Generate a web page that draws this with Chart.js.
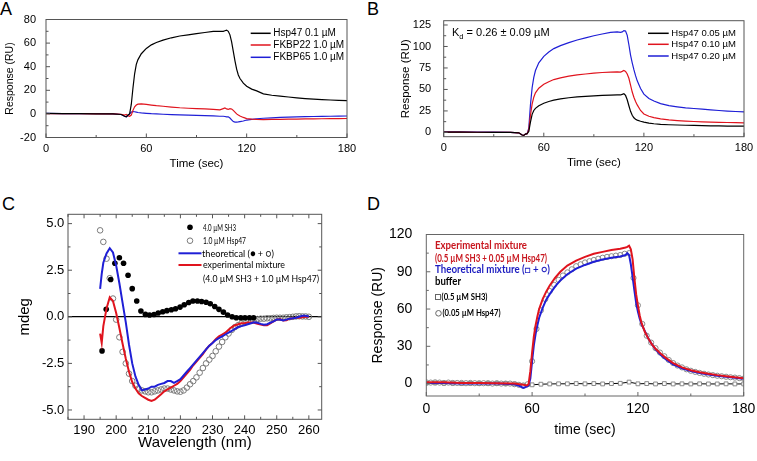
<!DOCTYPE html>
<html>
<head>
<meta charset="utf-8">
<script src="https://cdn.jsdelivr.net/npm/chart.js@4.4.0/dist/chart.umd.min.js"></script>
<style>
body { margin: 0; background: #fff; width: 757px; height: 461px; position: relative; overflow: hidden; font-family: "Liberation Sans", Arial, sans-serif; }
.box { position: absolute; }
.tag { position: absolute; font-size: 18px; line-height: 18px; color: #000; }
</style>
</head>
<body>
<div class="tag" style="left:0px;top:0px">A</div>
<div class="tag" style="left:367px;top:0px">B</div>
<div class="tag" style="left:2px;top:195px">C</div>
<div class="tag" style="left:367px;top:195px">D</div>

<div class="box" style="left:0px;top:0px;width:378px;height:180px"><canvas id="chartA"></canvas></div>
<div class="box" style="left:378px;top:0px;width:379px;height:180px"><canvas id="chartB"></canvas></div>
<div class="box" style="left:0px;top:190px;width:378px;height:271px"><canvas id="chartC"></canvas></div>
<div class="box" style="left:360px;top:190px;width:397px;height:271px"><canvas id="chartD"></canvas></div>

<script>
// ---- A / B : SPR sensorgrams (time in sec, response in RU)
var timeAB = [0, 10, 20, 30, 40, 45, 47, 48, 49, 50, 51, 52, 53, 54, 55, 57, 60, 63, 66, 70, 75, 80, 85, 90, 95,
    100, 104, 106, 107, 108, 109, 110, 111, 112, 113, 114, 115, 116, 118, 120, 123, 126, 130, 135, 140,
    145, 150, 155, 160, 165, 170, 175, 180];

var hsp47A = [0.5, 0.3, 0.2, 0, 0, -0.5, -2, -2.5, -1, 0, 8, 22, 34, 42, 46, 51, 55.5, 58.5, 60.5, 62.5,
    64.5, 66, 67, 68, 69, 70, 70, 70, 70.5, 71, 70, 67, 61, 53, 45, 38, 33, 30, 26, 23.5,
    21, 19.5, 17, 15.8, 15, 14.3, 13.6, 13, 12.5, 12.1, 11.8, 11.5, 11.2];
var fkbp22A = [0.3, 0.2, 0.2, 0, 0, -0.3, -1, -0.5, -1.5, -2, -1, 3, 6, 7.5, 8.3, 8.5, 8, 7.5, 7, 6.5,
    5.8, 5.2, 4.8, 4.5, 4.2, 3.9, 3.5, 4.5, 5, 4.2, 3.8, 4.5, 4.2, 3, 1.5, 0, -1, -1.8, -3, -4,
    -4.4, -4.7, -4.8, -4.7, -4.6, -4.5, -4.4, -4.3, -4.2, -4.1, -4, -4, -3.9];
var fkbp65A = [0.5, 0.3, 0.3, 0.2, 0, -0.5, -2, -2.5, -1.5, 0, 1.5, 2, 1.8, 1.5, 1.2, 0.8, 0.5, 0.2, 0, -0.3,
    -0.6, -0.8, -1, -1.2, -1.5, -1.7, -2, -2, -2.2, -2.5, -2.5, -3.5, -5, -6.5, -7, -7, -6.8, -6.5, -6, -5.2,
    -4.6, -4.1, -3.7, -3.3, -3, -2.7, -2.5, -2.3, -2.2, -2.1, -2, -1.9, -1.8];

var hsp005B = [0.3, 0.3, 0.2, 0, 0, -0.5, -3, -3.5, -2, -1.5, 1, 12, 21, 25.5, 28, 31, 34, 36, 37.5, 39,
    40.3, 41.3, 42, 42.6, 43.1, 43.5, 43.7, 43.6, 44.3, 45, 43, 38, 31, 24.5, 20, 17, 15.3, 14.3, 13, 12,
    10.9, 10.1, 9.4, 8.9, 8.6, 8.3, 8.1, 7.9, 7.7, 7.6, 7.4, 7.3, 7.2];
var hsp010B = [0.3, 0.3, 0.2, 0, 0, -0.5, -3, -3.5, -2, -1.5, 3, 20, 33, 41, 46, 51.5, 56, 59, 61.5, 63.5,
    65.5, 67, 68, 69, 69.7, 70.2, 70.4, 70.2, 71, 72, 71, 68, 63, 55, 47, 41, 36, 32, 25.5, 21.5,
    18.8, 17.2, 15.8, 14.6, 13.8, 13.2, 12.7, 12.3, 12, 11.7, 11.5, 11.3, 11.1];
var hsp020B = [0.5, 0.5, 0.3, 0.3, 0, -0.5, -3, -3.5, -2, -1.5, 5, 32, 52, 64, 72, 81, 88.5, 93.5, 97.5, 101,
    104.5, 107.5, 110, 112.5, 114.5, 116.5, 117, 116.5, 117, 118.5, 118, 113, 102, 90, 81, 73, 66, 60, 51, 44.5,
    39.5, 36.5, 33.5, 31.2, 29.8, 28.6, 27.8, 27, 26.2, 25.5, 24.8, 24.3, 23.8];

// ---- C : CD spectra (wavelength in nm, mdeg)
var wlSH3 = [195.6, 196.9, 198.3, 199.6, 201.0, 202.3, 203.7, 205.0, 206.4, 207.7, 209.1, 210.4, 211.8, 213.1,
    214.5, 215.8, 217.2, 218.5, 219.9, 221.2, 222.6, 223.9, 225.3, 226.6, 228.0, 229.3, 230.7, 232.0, 233.4,
    234.7, 236.1, 237.4, 238.8, 240.1, 241.5, 242.8];
var sh3C = [-1.83, 0.40, 2.0, 2.87, 3.17, 2.87, 2.23, 1.51, 0.85, 0.31, 0.13, 0.10, 0.12, 0.2, 0.27, 0.33,
    0.38, 0.43, 0.52, 0.65, 0.77, 0.85, 0.85, 0.82, 0.78, 0.7, 0.55, 0.4, 0.25, 0.1, 0.0, -0.05, -0.05,
    -0.05, -0.05, -0.05];

var wlHsp = [195, 196, 197, 198, 199, 200, 201, 202, 203, 204, 205, 206, 207, 208, 209, 210, 211, 212, 213, 214,
    215, 216, 217, 218, 219, 220, 221, 222, 223, 224, 225, 226, 227, 228, 229, 230, 231, 232, 233, 234,
    235, 236, 237, 238, 239, 240, 241, 242, 243, 244, 245, 246, 247, 248, 249, 250, 251, 252, 253, 254,
    255, 256, 257, 258, 259, 260];
var hsp47C = [4.64, 4.02, 3.12, 2.07, 0.98, -0.15, -1.1, -1.88, -2.5, -3.05, -3.45, -3.7, -3.85, -3.95, -4.0,
    -4.05, -4.05, -4.0, -3.95, -3.9, -3.85, -3.85, -3.9, -3.95, -4.0, -4.02, -3.95, -3.8, -3.62, -3.45,
    -3.25, -3.0, -2.75, -2.5, -2.3, -2.1, -1.85, -1.6, -1.35, -1.1, -0.9, -0.7, -0.55, -0.45, -0.35,
    -0.3, -0.25, -0.2, -0.15, -0.12, -0.1, -0.1, -0.08, -0.08, -0.06, -0.05, -0.05, -0.05, -0.03, -0.02,
    0, 0.02, 0.03, 0.02, 0.02, 0];

var wlLine = [195, 195.5, 196, 197, 198, 199, 200, 201, 202, 203, 204, 205, 206, 207, 208, 209, 210, 211, 212,
    213, 214, 215, 216, 217, 218, 219, 220, 221, 222, 223, 224, 225, 226, 227, 228, 229, 230, 231, 232,
    233, 234, 235, 236, 237, 238, 239, 240, 241, 242, 243, 244, 245, 246, 247, 248, 249, 250, 251, 252,
    253, 254, 255, 256, 257, 258, 259, 260];
var theoC = [1.5, 2.3, 2.9, 3.4, 3.68, 3.45, 2.75, 1.8, 0.75, -0.3, -1.5, -2.5, -3.2, -3.65, -3.95, -3.9, -3.85,
    -3.75, -3.75, -3.65, -3.6, -3.55, -3.45, -3.45, -3.55, -3.45, -3.35, -3.15, -2.95, -2.75, -2.55, -2.35,
    -2.15, -1.95, -1.75, -1.55, -1.4, -1.25, -1.15, -1.05, -0.95, -0.85, -0.75, -0.65, -0.55, -0.5, -0.45,
    -0.4, -0.35, -0.3, -0.32, -0.38, -0.42, -0.4, -0.32, -0.25, -0.15, -0.15, -0.2, -0.15, -0.1, -0.08,
    -0.05, 0, 0.05, 0.05, 0.02];
var exptC = [-0.9, -1.4, -0.5, 0.45, 1.05, 0.85, 0.2, -0.6, -1.45, -2.25, -2.95, -3.5, -3.85, -4.1, -4.25, -4.35,
    -4.45, -4.52, -4.45, -4.3, -4.15, -4.0, -3.9, -3.8, -3.7, -3.6, -3.45, -3.25, -3.05, -2.85, -2.6, -2.4,
    -2.2, -2.0, -1.75, -1.55, -1.4, -1.2, -1.05, -0.95, -0.85, -0.7, -0.55, -0.45, -0.4, -0.35, -0.35,
    -0.3, -0.3, -0.32, -0.38, -0.42, -0.45, -0.45, -0.35, -0.25, -0.15, -0.12, -0.2, -0.18, -0.1, -0.08,
    -0.05, -0.05, -0.02, 0, 0];

// ---- D : mixture sensorgrams
var timeD = [0, 10, 20, 30, 40, 50, 53, 55, 57, 58, 59, 60, 61, 62, 63, 64, 66, 68, 70, 73, 76, 80, 85, 90, 95,
    100, 105, 110, 113, 114, 115, 116, 117, 118, 119, 120, 121, 122, 124, 126, 128, 130, 133, 136, 140,
    145, 150, 155, 160, 165, 170, 175, 180];
var exptD = [1, 1, 0.5, 0.5, 0.3, 0, -0.5, -1, -1.5, -0.5, 10, 25, 38, 47, 54, 60, 68, 74, 79, 85,
    90, 95, 99, 102, 104.5, 106, 107.5, 108.5, 109.5, 110, 111, 108, 100, 85, 72, 63, 55, 49, 41.5, 36,
    31.5, 28, 24, 20.5, 16.5, 13, 10.8, 9.2, 7.9, 6.8, 5.9, 5, 4.3];
var theoD = [0.5, 0.5, 0, 0, 0, -0.5, -2, -3.5, -2.5, -1.5, 4, 18, 31, 40, 47, 53, 61, 67.5, 72, 78,
    83, 88, 92.5, 95.5, 98, 99.8, 101.2, 102.3, 103.5, 105, 103.5, 96, 86, 75, 65, 58, 52.5, 48, 42, 36,
    31.5, 27.5, 23, 19.5, 15.5, 12.2, 10, 8.5, 7.3, 6.3, 5.4, 4.6, 3.8];

var timeCirc = [0, 2.5, 5, 7.5, 10, 12.5, 15, 17.5, 20, 22.5, 25, 27.5, 30, 32.5, 35, 37.5, 40, 42.5, 45, 47.5,
    50, 52.5, 55, 57.5, 60, 62.5, 65, 67.5, 70, 72.5, 75, 77.5, 80, 82.5, 85, 87.5, 90, 92.5, 95, 97.5,
    100, 102.5, 105, 107.5, 110, 112.5, 115, 117.5, 120, 122.5, 125, 127.5, 130, 132.5, 135, 137.5, 140,
    142.5, 145, 147.5, 150, 152.5, 155, 157.5, 160, 162.5, 165, 167.5, 170, 172.5, 175, 177.5, 180];
var hsp47D = [1, 0.8, 1, 0.8, 0.5, 0.8, 0.5, 0.5, 0.5, 0.3, 0.5, 0.3, 0.3, 0.3, 0.3, 0, 0.3, 0, 0, 0,
    -0.5, -1, -1.5, -0.5, 18, 44, 59, 68, 74.5, 79.5, 83.5, 87, 89.5, 92, 94.5, 96, 97.5, 98.5, 99.5, 100.5,
    101.3, 102, 102.5, 103, 103.5, 104.5, 105, 85, 63, 48, 38.5, 33, 28.5, 25, 22, 19, 16.5, 14.5, 13, 11.5,
    10.3, 9.4, 8.6, 7.9, 7.3, 6.8, 6.3, 5.9, 5.5, 5.1, 4.8, 4.4, 4];

var timeSq = [0, 5, 10, 15, 20, 25, 30, 35, 40, 45, 50, 55, 60, 65, 70, 75, 80, 85, 90, 95, 100, 105, 110, 115,
    120, 125, 130, 135, 140, 145, 150, 155, 160, 165, 170, 175, 180];
var sh3D = [0.3, 0.5, 0.3, 0.3, 0, 0.2, 0, 0, 0, 0, -0.3, -2, -1, -0.5, -0.3, -0.2, -0.2, 0, -0.2, 0,
    -0.3, 0, 0.2, 1.2, -0.2, 0, -0.3, 0, -0.3, -0.2, -0.3, -0.2, -0.3, -0.3, -0.2, -0.3, -0.3];

var RED = '#e0141e', BLUE = '#1f1fd6';
var SANS = '"Liberation Sans", Arial, sans-serif';
var SOFT = 'Lato, "Open Sans", sans-serif';

Chart.defaults.font.family = SANS;
Chart.defaults.color = '#000';
Chart.defaults.animation = false;

function pts(xs, ys) {
    return xs.map(function (x, i) { return {x: x, y: ys[i]}; });
}

// Origin-style frame with inward major/minor ticks
var frameTicks = {
    id: 'frameTicks',
    afterDatasetsDraw: function (chart, args, o) {
        var ctx = chart.ctx, a = chart.chartArea;
        function marks(scale) {
            var t = scale.ticks.map(function (k) { return k.value; });
            var out = [], step = t[1] - t[0];
            if (t[0] - step / 2 >= scale.min) out.push([t[0] - step / 2, o.minor]);
            t.forEach(function (v, i) {
                out.push([v, o.major]);
                if (i < t.length - 1 || v + step / 2 <= scale.max) out.push([v + step / 2, o.minor]);
            });
            return out;
        }
        ctx.save();
        ctx.strokeStyle = o.color;
        ctx.lineWidth = 1;
        ctx.strokeRect(a.left, a.top, a.right - a.left, a.bottom - a.top);
        ctx.beginPath();
        marks(chart.scales.x).forEach(function (m) {
            var px = chart.scales.x.getPixelForValue(m[0]);
            if (px > a.right + 0.5) return;
            ctx.moveTo(px, a.bottom); ctx.lineTo(px, a.bottom - m[1]);
            if (o.all) { ctx.moveTo(px, a.top); ctx.lineTo(px, a.top + m[1]); }
        });
        marks(chart.scales.y).forEach(function (m) {
            var py = chart.scales.y.getPixelForValue(m[0]);
            if (py < a.top - 0.5) return;
            ctx.moveTo(a.left, py); ctx.lineTo(a.left + m[1], py);
            if (o.all) { ctx.moveTo(a.right, py); ctx.lineTo(a.right - m[1], py); }
        });
        ctx.stroke();
        ctx.restore();
    }
};

function lineSet(label, xs, ys, color, width) {
    return {label: label, data: pts(xs, ys), showLine: true, borderColor: color, borderWidth: width,
        pointRadius: 0, fill: false, tension: 0};
}

function axisX(min, max, step, tickSize, tickPad, title, titleSize, titlePad, height) {
    return {
        type: 'linear', min: min, max: max,
        ticks: {stepSize: step, includeBounds: false, maxRotation: 0, font: {size: tickSize}, padding: tickPad},
        grid: {display: false}, border: {display: false},
        title: {display: true, text: title, font: {size: titleSize, weight: 'normal'}, padding: {top: 0, bottom: titlePad}},
        afterFit: function (s) { s.height = height; }
    };
}

function axisY(min, max, step, tickSize, tickPad, title, titleSize, titlePad, width) {
    return {
        type: 'linear', min: min, max: max,
        ticks: {stepSize: step, includeBounds: false, font: {size: tickSize}, padding: tickPad},
        grid: {display: false}, border: {display: false},
        title: {display: true, text: title, font: {size: titleSize, weight: 'normal'}, padding: {top: titlePad, bottom: 0}},
        afterFit: function (s) { s.width = width; }
    };
}

function lineLegend(rows, x0, x1, tx, font) {
    return {
        id: 'lineLegend',
        afterDraw: function (chart) {
            var ctx = chart.ctx;
            ctx.save();
            ctx.font = font;
            ctx.textBaseline = 'middle';
            chart.data.datasets.forEach(function (ds, i) {
                var y = rows[i];
                ctx.strokeStyle = ds.borderColor;
                ctx.lineWidth = 1.5;
                ctx.beginPath(); ctx.moveTo(x0, y); ctx.lineTo(x1, y); ctx.stroke();
                ctx.fillStyle = '#000';
                ctx.fillText(ds.label, tx, y);
            });
            ctx.restore();
        }
    };
}

// ---------- A
new Chart(document.getElementById('chartA'), {
    type: 'scatter',
    data: {datasets: [
        lineSet('Hsp47 0.1 \u00b5M', timeAB, hsp47A, '#000', 1.2),
        lineSet('FKBP22 1.0 \u00b5M', timeAB, fkbp22A, RED, 1.2),
        lineSet('FKBP65 1.0 \u00b5M', timeAB, fkbp65A, BLUE, 1.2)
    ]},
    options: {
        responsive: true, maintainAspectRatio: false,
        layout: {padding: {left: 0, right: 31, top: 19.5, bottom: 0}},
        scales: {
            x: axisX(0, 180, 60, 11, -2.9, 'Time (sec)', 11.5, 8.8, 42.5),
            y: axisY(-20, 80, 20, 11, 2, 'Response (RU)', 10.5, 3.7, 46)
        },
        plugins: {legend: {display: false}, tooltip: {enabled: false},
            frameTicks: {color: '#555', major: 4, minor: 2.5, all: false}}
    },
    plugins: [frameTicks, lineLegend([33.3, 45, 57.3], 250.7, 270.7, 273.3, '10px ' + SANS)]
});

// ---------- B
new Chart(document.getElementById('chartB'), {
    type: 'scatter',
    data: {datasets: [
        lineSet('Hsp47 0.05 \u00b5M', timeAB, hsp005B, '#000', 1.2),
        lineSet('Hsp47 0.10 \u00b5M', timeAB, hsp010B, RED, 1.2),
        lineSet('Hsp47 0.20 \u00b5M', timeAB, hsp020B, BLUE, 1.2)
    ]},
    options: {
        responsive: true, maintainAspectRatio: false,
        layout: {padding: {left: 0, right: 13, top: 20.7, bottom: 0}},
        scales: {
            x: axisX(0, 180, 60, 11, -2.9, 'Time (sec)', 11.5, 9.8, 43.3),
            y: axisY(-5, 130, 25, 11, 4.5, 'Response (RU)', 11.5, 20.6, 65.7)
        },
        plugins: {legend: {display: false}, tooltip: {enabled: false},
            frameTicks: {color: '#555', major: 4, minor: 2.5, all: false}}
    },
    plugins: [frameTicks, lineLegend([33.3, 44.3, 56], 270, 290.7, 293.3, '9.5px ' + SANS), {
        id: 'kd',
        afterDraw: function (chart) {
            var ctx = chart.ctx;
            ctx.save();
            ctx.fillStyle = '#000';
            ctx.textBaseline = 'middle';
            ctx.font = '11px ' + SANS;
            ctx.fillText('K', 74, 33.3);
            var w = ctx.measureText('K').width;
            ctx.font = '7.5px ' + SANS;
            ctx.fillText('d', 74 + w, 37);
            var w2 = ctx.measureText('d').width;
            ctx.font = '11px ' + SANS;
            ctx.fillText(' = 0.26 \u00b1 0.09 \u00b5M', 74 + w + w2, 33.3);
            ctx.restore();
        }
    }]
});

// ---------- C
var yC = axisY(-5.5, 5.5, 2.5, 13, 3.7, 'mdeg', 15, 16, 68);
yC.ticks.callback = function (v) { return v.toFixed(1); };
yC.grid = {display: true, drawTicks: false, lineWidth: 1.2,
    color: function (c) { return c.tick && c.tick.value === 0 ? '#000' : 'rgba(0,0,0,0)'; }};

new Chart(document.getElementById('chartC'), {
    type: 'scatter',
    data: {datasets: [
        lineSet('theoretical (\u25cf + \u25cb)', wlLine, theoC, BLUE, 2),
        lineSet('experimental mixture', wlLine, exptC, RED, 2),
        {label: '4.0 \u00b5M SH3', data: pts(wlSH3, sh3C), pointRadius: 2.8, pointBackgroundColor: '#000',
            pointBorderColor: '#000', pointBorderWidth: 0},
        {label: '1.0 \u00b5M Hsp47', data: pts(wlHsp, hsp47C), pointRadius: 2.8, pointBackgroundColor: 'rgba(0,0,0,0)',
            pointBorderColor: '#7a7a7a', pointBorderWidth: 1}
    ]},
    options: {
        responsive: true, maintainAspectRatio: false,
        layout: {padding: {left: 0, right: 56.3, top: 24.3, bottom: 0}},
        scales: {
            x: axisX(185, 264, 10, 13, -4.9, 'Wavelength (nm)', 15, 8.7, 41.7),
            y: yC
        },
        plugins: {legend: {display: false}, tooltip: {enabled: false},
            frameTicks: {color: '#555', major: 4, minor: 2.5, all: true}}
    },
    plugins: [frameTicks, {
        id: 'legendC',
        afterDraw: function (chart) {
            var ctx = chart.ctx, ds = chart.data.datasets;
            ctx.save();
            ctx.textBaseline = 'middle';
            ctx.font = '10px ' + SOFT;
            ctx.fillStyle = '#000';
            ctx.beginPath(); ctx.arc(190, 37.3, 2.8, 0, 2 * Math.PI); ctx.fill();
            ctx.fillText(ds[2].label, 203, 37.3, 33);
            ctx.strokeStyle = '#7a7a7a'; ctx.lineWidth = 1;
            ctx.beginPath(); ctx.arc(190, 50.7, 2.8, 0, 2 * Math.PI); ctx.stroke();
            ctx.fillText(ds[3].label, 203, 50.7, 43);
            ctx.lineWidth = 2;
            ctx.strokeStyle = ds[0].borderColor;
            ctx.beginPath(); ctx.moveTo(178.5, 63.3); ctx.lineTo(201.5, 63.3); ctx.stroke();
            ctx.fillText(ds[0].label, 202, 63.3, 72);
            ctx.strokeStyle = ds[1].borderColor;
            ctx.beginPath(); ctx.moveTo(178.5, 75); ctx.lineTo(201.5, 75); ctx.stroke();
            ctx.fillText(ds[1].label, 203, 75, 82);
            ctx.fillText('(4.0 \u00b5M SH3 + 1.0 \u00b5M Hsp47)', 203, 89, 116);
            ctx.restore();
        }
    }]
});

// ---------- D
new Chart(document.getElementById('chartD'), {
    type: 'scatter',
    data: {datasets: [
        lineSet('Experimental mixture', timeD, exptD, RED, 2),
        lineSet('Theoretical mixture (\u25a1 + \u25cb)', timeD, theoD, BLUE, 2),
        {label: '(0.05 \u00b5M Hsp47)', data: pts(timeCirc, hsp47D), pointRadius: 2.6,
            pointBackgroundColor: 'rgba(0,0,0,0)', pointBorderColor: '#8a8a8a', pointBorderWidth: 1},
        {label: '(0.5 \u00b5M SH3)', data: pts(timeSq, sh3D), showLine: true, borderColor: '#000', borderWidth: 1,
            pointStyle: 'rect', pointRadius: 2.7, pointBackgroundColor: '#fff', pointBorderColor: '#8a8a8a',
            pointBorderWidth: 1, tension: 0}
    ]},
    options: {
        responsive: true, maintainAspectRatio: false,
        layout: {padding: {left: 0, right: 13.3, top: 44.5, bottom: 0}},
        scales: {
            x: axisX(0, 180, 60, 14, -3.3, 'time (sec)', 14, 22.6, 65),
            y: axisY(-10, 120, 30, 14, 6, 'Response (RU)', 14, 9.9, 66.3)
        },
        plugins: {legend: {display: false}, tooltip: {enabled: false},
            frameTicks: {color: '#666', major: 4, minor: 2.5, all: false}}
    },
    plugins: [frameTicks, {
        id: 'legendD',
        afterDraw: function (chart) {
            var ctx = chart.ctx, ds = chart.data.datasets;
            ctx.save();
            ctx.textBaseline = 'middle';
            ctx.font = 'bold 10.5px ' + SOFT;
            ctx.fillStyle = '#c8161e';
            ctx.fillText(ds[0].label, 75, 55.7, 92);
            ctx.fillText('(0.5 \u00b5M SH3 + 0.05 \u00b5M Hsp47)', 75, 68.3, 112);
            ctx.fillStyle = '#1c1cc0';
            ctx.fillText(ds[1].label, 75, 79.3, 115);
            ctx.fillStyle = '#000';
            ctx.fillText('buffer', 75, 91.7, 26);
            ctx.strokeStyle = '#666'; ctx.lineWidth = 1;
            ctx.strokeRect(75.5, 104.5, 5, 5);
            ctx.beginPath(); ctx.arc(78.5, 123.3, 2.8, 0, 2 * Math.PI); ctx.stroke();
            ctx.font = 'bold 8.5px ' + SOFT;
            ctx.fillText(ds[3].label, 81.5, 107.5, 46);
            ctx.fillText(ds[2].label, 82.5, 123.3, 58);
            ctx.restore();
        }
    }]
});
</script>
</body>
</html>
